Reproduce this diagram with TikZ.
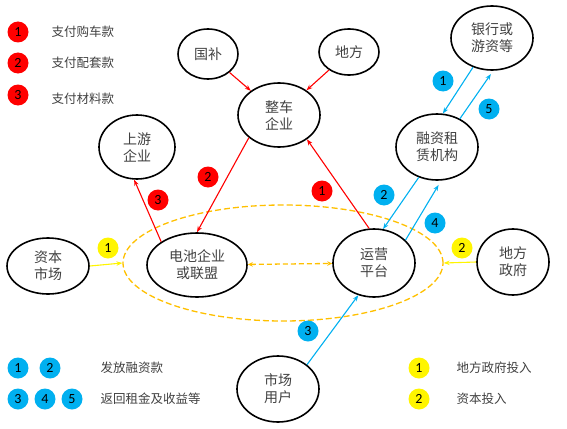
\documentclass[tikz,border=0pt]{standalone}
\usepackage{fontspec}
\newfontfamily\cjk{Noto Sans CJK SC}
\newfontfamily\numfont{Carlito}
\usepackage{tikz}
\usetikzlibrary{arrows.meta,shapes.geometric}

\definecolor{payred}{RGB}{255,0,0}
\definecolor{finblue}{RGB}{0,176,240}
\definecolor{invyellow}{RGB}{255,245,0}
\definecolor{looporange}{RGB}{255,192,0}
\definecolor{txtgray}{RGB}{64,64,64}

\begin{document}
\begin{tikzpicture}[x=1pt, y=-1pt,
    org/.style={ellipse, draw, line width=1.6pt, inner sep=0pt, align=center, text=txtgray, font=\cjk\fontsize{14}{17}\selectfont},
    pay/.style={-{Stealth[length=6pt,width=4.5pt]}, line width=1.1pt, payred},
    fin/.style={-{Stealth[length=6pt,width=4.5pt]}, line width=1.1pt, finblue},
    inv/.style={-{Stealth[length=6pt,width=4.5pt]}, line width=1.1pt, invyellow},
    badge/.style={circle, inner sep=0pt, minimum size=21pt, font=\numfont\fontsize{14}{14}\selectfont},
    legend/.style={anchor=west, text=txtgray, font=\cjk\fontsize{12.5}{15}\selectfont}
]
    \useasboundingbox (0,0) rectangle (567,428);

    % Dashed ring round the two core players
    \node[ellipse, draw=looporange, dashed, dash pattern=on 6pt off 3pt, line width=1.3pt, minimum width=320pt, minimum height=116pt] (loop) at (283,263) {};

    % Players
    \node[org, minimum width=60pt, minimum height=50pt] (gb) at (208,54) {国补};
    \node[org, minimum width=60pt, minimum height=46pt] (df) at (349,52) {地方};
    \node[org, minimum width=82pt, minimum height=64pt] (zc) at (279,115) {整车\\企业};
    \node[org, minimum width=76pt, minimum height=64pt] (sy) at (137,147) {上游\\企业};
    \node[org, minimum width=82pt, minimum height=64pt] (yh) at (492,38) {银行或\\游资等};
    \node[org, minimum width=82pt, minimum height=66pt] (rz) at (437,147) {融资租\\赁机构};
    \node[org, minimum width=82pt, minimum height=56pt] (zbsc) at (48,266) {资本\\市场};
    \node[org, minimum width=100pt, minimum height=64pt] (dc) at (197,265) {电池企业\\或联盟};
    \node[org, minimum width=82pt, minimum height=68pt] (yy) at (374,263) {运营\\平台};
    \node[org, minimum width=72pt, minimum height=66pt] (dfzf) at (513,262) {地方\\政府};
    \node[org, minimum width=82pt, minimum height=66pt] (sc) at (278,389) {市场\\用户};

    % Payments (red)
    \draw[pay] (gb) -- (zc);
    \draw[pay] (df) -- (zc);
    \draw[pay] (zc.217) -- (dc.90);
    \draw[pay] (yy.98) -- (zc.319);
    \draw[pay] (dc.147) -- (sy.265);

    % Financing flows (blue)
    \draw[fin] (yh.237) -- (rz.80);
    \draw[fin, shorten >=4pt] (rz.51) -- (yh.272);
    \draw[fin] (rz.239) -- (yy.75);
    \draw[fin, shorten >=5pt] (yy.36) -- (rz.277);
    \draw[fin] (sc.40) -- (yy.244);

    % Investment (yellow)
    \draw[inv] (zbsc.east) -- (loop.west);
    \draw[inv] (dfzf.west) -- (loop.east);

    % Cooperation between battery side and platform
    \draw[looporange, dashed, dash pattern=on 5pt off 3pt, line width=1.3pt, {Stealth[length=5pt,width=4.5pt]}-{Stealth[length=5pt,width=4.5pt]}] (dc) -- (yy);

    % Badges on the flows
    \node[badge, fill=payred] (r1) at (322,191) {1};
    \node[badge, fill=payred] (r2) at (208,177) {2};
    \node[badge, fill=payred] (r3) at (158,200) {3};
    \node[badge, fill=finblue] (b1) at (443,81) {1};
    \node[badge, fill=finblue] (b2) at (384,195) {2};
    \node[badge, fill=finblue] (b3) at (308,331) {3};
    \node[badge, fill=finblue] (b4) at (435,223) {4};
    \node[badge, fill=finblue] (b5) at (489,109) {5};
    \node[badge, fill=invyellow] (y1) at (108,248) {1};
    \node[badge, fill=invyellow] (y2) at (462,248) {2};

    % Legend
    \node[badge, fill=payred] (lr1) at (18,32) {1};
    \node[badge, fill=payred] (lr2) at (18,63) {2};
    \node[badge, fill=payred] (lr3) at (18,95) {3};
    \node[legend] (tr1) at (48,32) {支付购车款};
    \node[legend] (tr2) at (48,63) {支付配套款};
    \node[legend] (tr3) at (48,99) {支付材料款};

    \node[badge, fill=finblue] (lb1) at (18,368) {1};
    \node[badge, fill=finblue] (lb2) at (50,368) {2};
    \node[badge, fill=finblue] (lb3) at (18,399) {3};
    \node[badge, fill=finblue] (lb4) at (45,399) {4};
    \node[badge, fill=finblue] (lb5) at (72,399) {5};
    \node[legend] (tb1) at (97,368) {发放融资款};
    \node[legend] (tb2) at (97,399) {返回租金及收益等};

    \node[badge, fill=invyellow] (ly1) at (419,368) {1};
    \node[badge, fill=invyellow] (ly2) at (419,399) {2};
    \node[legend] (ty1) at (453,368) {地方政府投入};
    \node[legend] (ty2) at (453,399) {资本投入};
\end{tikzpicture}
\end{document}
